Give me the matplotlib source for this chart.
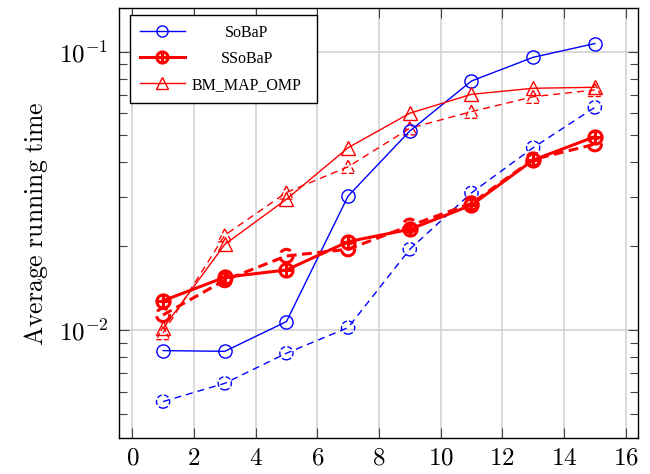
import math
import matplotlib
matplotlib.use('Agg')
import matplotlib.pyplot as plt
from matplotlib.ticker import LogLocator, NullFormatter, FuncFormatter
from matplotlib.lines import Line2D

# ---- data ----
x = [1, 3, 5, 7, 9, 11, 13, 15]
sobap_a = [0.00843, 0.00838, 0.01072, 0.0303, 0.0519, 0.0785, 0.0955, 0.107]
sobap_b = [0.00553, 0.00643, 0.00825, 0.0102, 0.0195, 0.0311, 0.0452, 0.0631]
ssobap_a = [0.01274, 0.01547, 0.01643, 0.02077, 0.0230, 0.0281, 0.0408, 0.0495]
ssobap_b = [0.01132, 0.0151, 0.01845, 0.0195, 0.0237, 0.0285, 0.0410, 0.0465]
bm_a = [0.01014, 0.0203, 0.0295, 0.0452, 0.0601, 0.0703, 0.0739, 0.0745]
bm_b = [0.00975, 0.0219, 0.0312, 0.0386, 0.0531, 0.0609, 0.0689, 0.0729]
labels = ['SoBaP', 'SSoBaP', 'BM_MAP_OMP']
xticks = list(range(0, 17, 2))

plt.rcParams['mathtext.fontset'] = 'cm'
plt.rcParams['font.family'] = ['DejaVu Serif']

W, H = 650, 474
fig = plt.figure(figsize=(W / 100, H / 100), dpi=100)
ax = fig.add_axes([119.3 / W, 1 - 438.3 / H, (637.7 - 119.3) / W, (438.3 - 8) / H])

blue = (0, 0, 1)
red = (1, 0, 0)
ms = 9.5
thin = 1.0
thick = 2.2

# solid series
ax.plot(x, sobap_a, color=blue, lw=thin, marker='o', ms=ms, mfc='none', mec=blue, mew=thin, zorder=5)
ax.plot(x, bm_a, color=red, lw=thin, marker='^', ms=ms, mfc='none', mec=red, mew=thin, zorder=5)
ax.plot(x, ssobap_a, color=red, lw=thick, marker='o', ms=ms, mfc='none', mec=red, mew=thick, zorder=6)
ax.plot(x, ssobap_a, color=red, lw=0, marker='+', ms=ms, mec=red, mew=thick, zorder=6)

# dashed series (dashed markers via scatter)
ax.plot(x, sobap_b, color=blue, lw=thin, ls=(0, (5, 3.6)), zorder=4)
ax.scatter(x, sobap_b, s=ms**2, marker='o', facecolors='none', edgecolors=blue, linewidths=thin, linestyles='--', zorder=4)
ax.plot(x, bm_b, color=red, lw=thin, ls=(0, (5, 3.6)), zorder=4)
ax.scatter(x, bm_b, s=ms**2, marker='^', facecolors='none', edgecolors=red, linewidths=thin, linestyles='--', zorder=4)
ax.plot(x, ssobap_b, color=red, lw=thick, ls=(0, (3.2, 1.8)), zorder=5)
ax.scatter(x, ssobap_b, s=ms**2, marker='o', facecolors='none', edgecolors=red, linewidths=thick, linestyles='--', zorder=5)
ax.scatter(x, ssobap_b, s=ms**2, marker='+', facecolors='none', edgecolors=red, linewidths=thick, linestyles='--', zorder=5)

ax.set_yscale('log')
ax.set_ylim(0.00408, 0.1436)
ax.set_xlim(-0.42, 16.39)
ax.set_xticks(xticks)
ax.xaxis.set_major_formatter(FuncFormatter(lambda v, p: r'$%d$' % round(v)))
ax.yaxis.set_major_locator(LogLocator(base=10, numticks=10))
ax.yaxis.set_minor_locator(LogLocator(base=10, subs=range(2, 10), numticks=20))
ax.yaxis.set_minor_formatter(NullFormatter())
ax.yaxis.set_major_formatter(FuncFormatter(lambda v, p: r'$10^{%d}$' % round(math.log10(v))))

ax.grid(True, which='major', color='#cfcfcf', lw=1.1)
ax.set_axisbelow(True)
ax.tick_params(which='both', direction='in', top=True, right=True, color='#444444', width=0.8)
ax.tick_params(which='major', length=7, labelsize=18)
ax.tick_params(which='minor', length=5.5)
ax.tick_params(axis='x', pad=6)
ax.tick_params(axis='y', pad=8)
for s in ax.spines.values():
    s.set_linewidth(1.0)

ax.set_ylabel(r'$\mathrm{Average\ running\ time}$', fontsize=18.5, labelpad=6)

# legend
lms = 8
h1 = Line2D([], [], color=blue, lw=thin, marker='o', ms=lms, mfc='none', mec=blue, mew=thin)
h2a = Line2D([], [], color=red, lw=thick, marker='o', ms=lms, mfc='none', mec=red, mew=thick)
h2b = Line2D([], [], color=red, lw=0, marker='+', ms=lms, mec=red, mew=thick)
h3 = Line2D([], [], color=red, lw=thin, marker='^', ms=lms, mfc='none', mec=red, mew=thin)
leg = ax.legend([h1, (h2a, h2b), h3], labels, loc='upper left', mode='expand',
                bbox_to_anchor=(0.0206, 0.9837, 0.360, 0), borderaxespad=0,
                prop={'family': 'Liberation Serif', 'size': 11.5},
                fancybox=False, framealpha=1, edgecolor='black',
                handlelength=2.8, handletextpad=0.45, labelspacing=0.62,
                borderpad=0.62)
leg.get_frame().set_linewidth(1.0)

# center legend labels in their column
fig.canvas.draw()
r = fig.canvas.get_renderer()
ws = [t.get_window_extent(r).width for t in leg.get_texts()]
mw = max(ws)
for t, w in zip(leg.get_texts(), ws):
    t.set_x((mw - w) / 2)

fig.savefig('out.png', dpi=100)
